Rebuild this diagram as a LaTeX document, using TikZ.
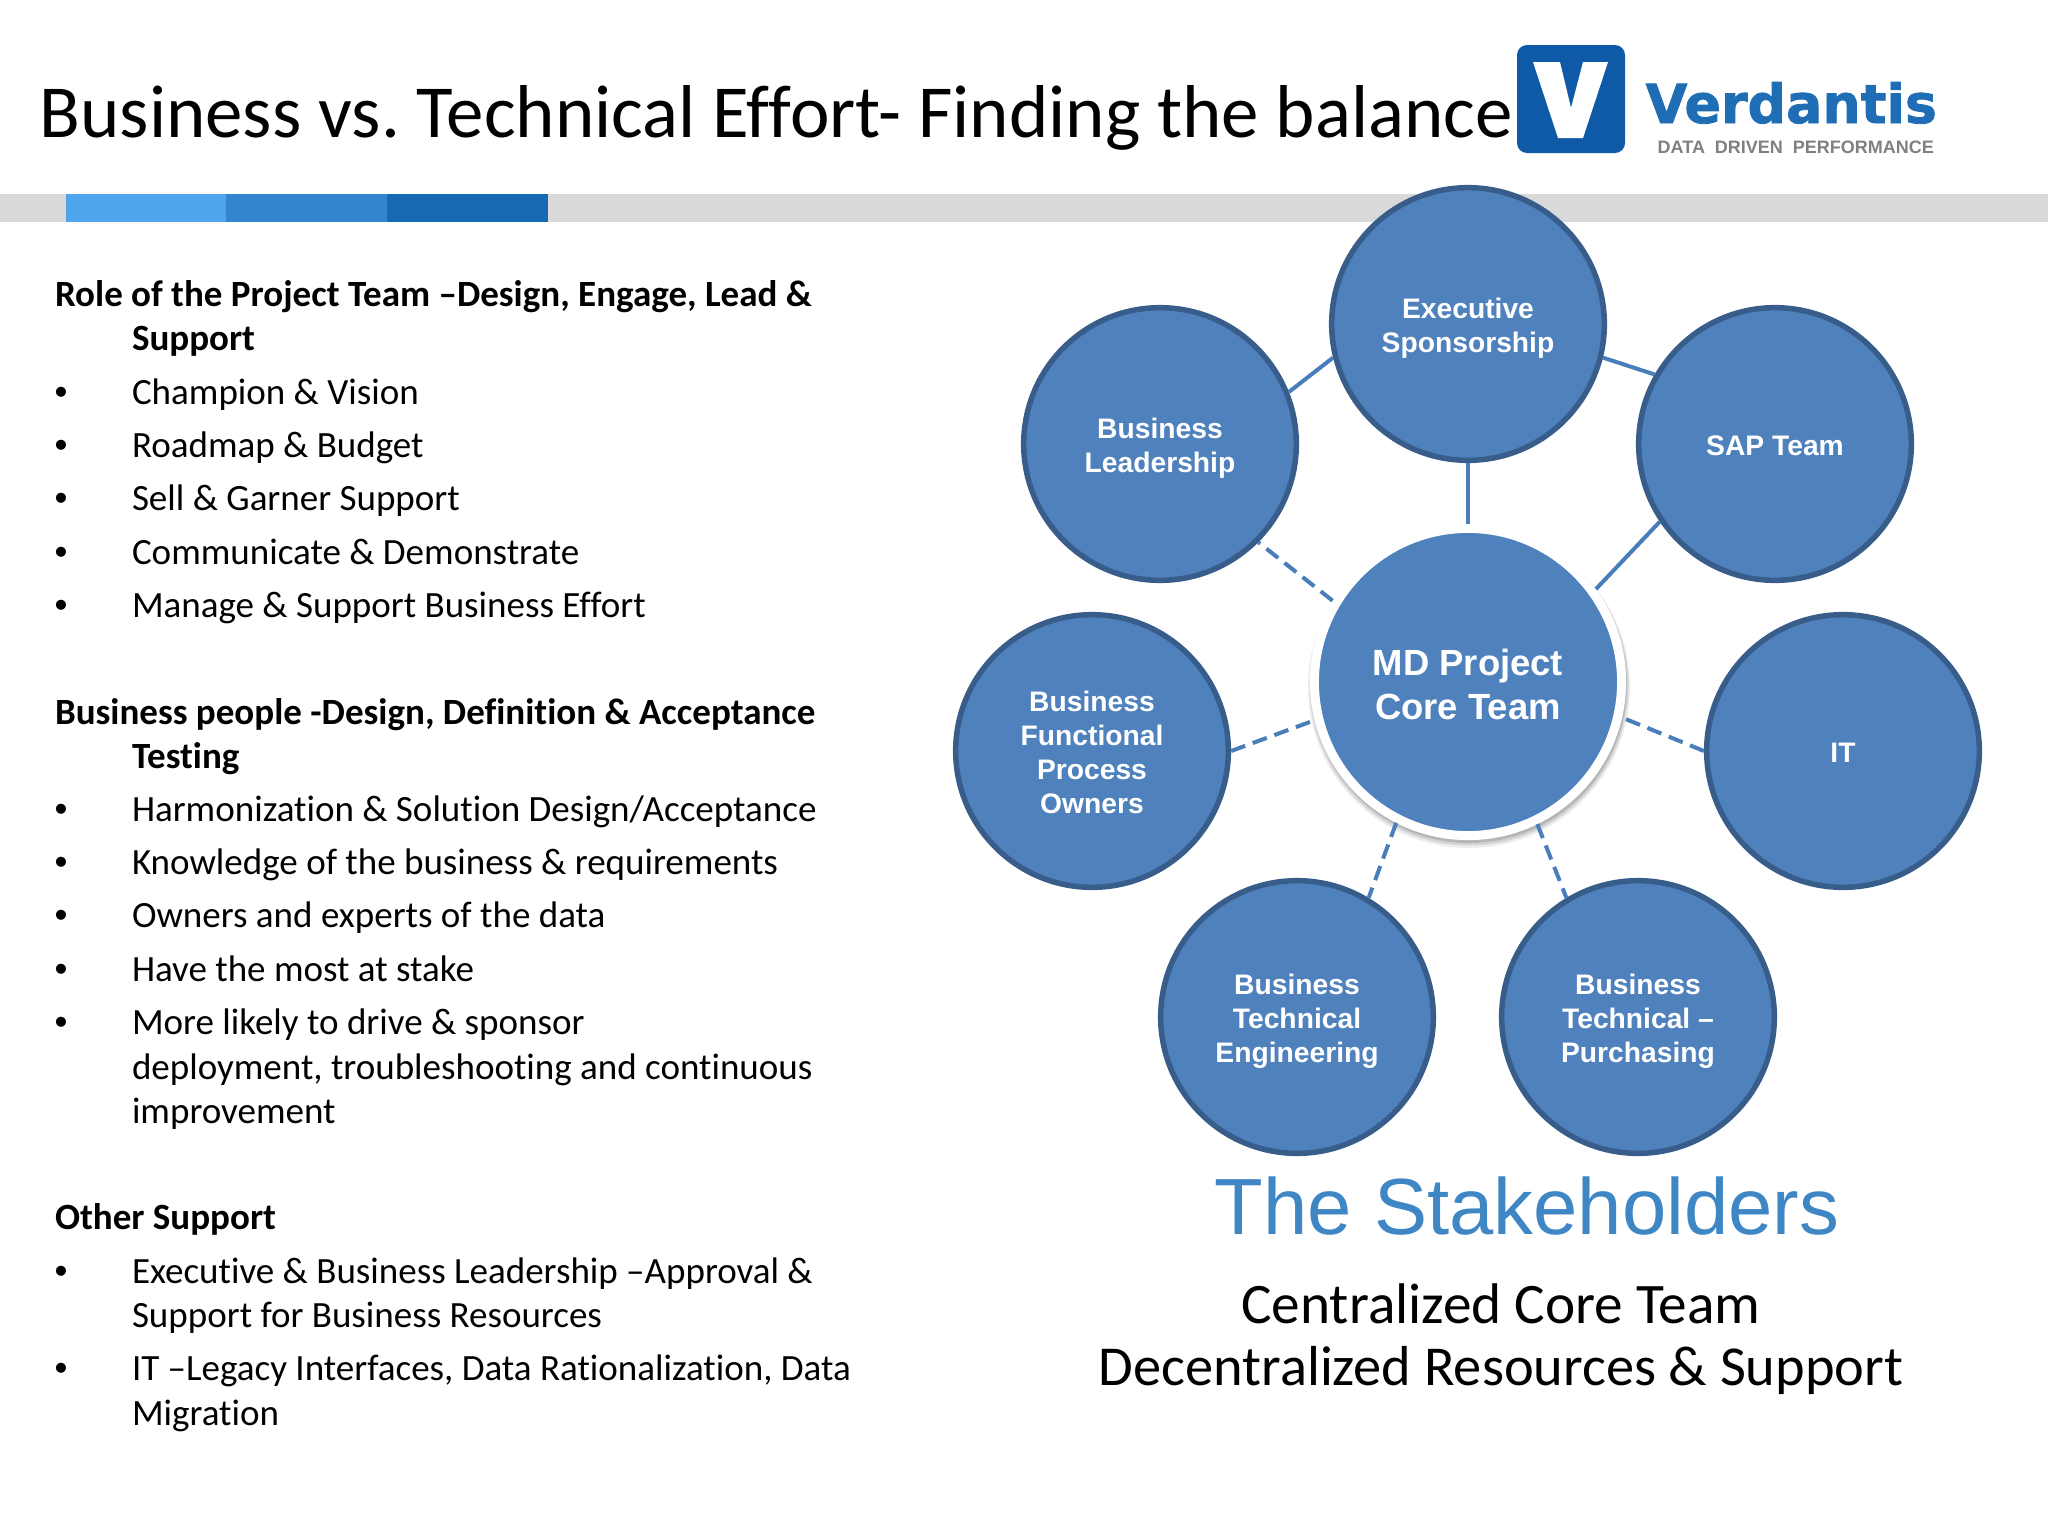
\documentclass[tikz,border=0pt]{standalone}
\usepackage{fontspec}
\usepackage{graphicx}
\setmainfont[Ligatures=NoCommon]{Carlito}
\newfontfamily\arialf{Liberation Sans}
\newfontfamily\dejaf[BoldFeatures={FakeBold=1.5}]{DejaVu Sans}
\definecolor{nodefill}{HTML}{4F81BD}
\definecolor{nodeline}{HTML}{385D8A}
\definecolor{linkc}{HTML}{4A7EBB}
\definecolor{bandc}{HTML}{D9D9D9}
\definecolor{bluea}{HTML}{4FA5EC}
\definecolor{blueb}{HTML}{3385CE}
\definecolor{bluec}{HTML}{166AB2}
\definecolor{logoc}{HTML}{0F5AA6}
\definecolor{vertext}{HTML}{1F6DB5}
\definecolor{stake}{HTML}{3F86C5}
\newcommand{\dn}[1]{\rule{0pt}{#1pt}}
\frenchspacing
\tikzset{
  px/.style={x=0.01cm,y=-0.01cm},
  txt/.style={anchor=base west,inner sep=0pt,outer sep=0pt,font=\fontsize{10.53}{12}\selectfont,text=black},
  hd/.style={txt,font=\fontsize{10.53}{12}\selectfont\bfseries},
  bul/.style={anchor=base,inner sep=0pt,outer sep=0pt,font=\arialf\fontsize{10.5}{12}\selectfont,text=black},
  stakenode/.style={circle,fill=nodefill,draw=nodeline,line width=5.5*0.2845pt,minimum size=2.725cm,inner sep=0pt,text=white,align=center,font=\arialf\fontsize{8.03}{9.65}\selectfont\bfseries},
  corenode/.style={circle,fill=nodefill,draw=white,line width=9*0.2845pt,minimum size=3.07cm,inner sep=0pt,text=white,align=center,font=\arialf\fontsize{10.36}{12.65}\selectfont\bfseries},
  solidlink/.style={draw=linkc,line width=4*0.2845pt},
  dashlink/.style={solidlink,dash pattern=on 15*0.2845pt off 8*0.2845pt},
  capt/.style={anchor=base,inner sep=0pt,outer sep=0pt,font=\fontsize{16.03}{18}\selectfont,text=black}
}
\begin{document}
\begin{tikzpicture}[px]
\useasboundingbox (0,0) rectangle (2048,1536);
\fill[white] (0,0) rectangle (2048,1536);
% band
\fill[bandc] (0,194) rectangle (2048,222);
\fill[bluea] (66,194) rectangle (226,221.5);
\fill[blueb] (226,194) rectangle (387,221.5);
\fill[bluec] (387,194) rectangle (548,221.5);
% title
\node[anchor=base west,inner sep=0pt,font=\fontsize{21.3}{24}\selectfont] (title) at (39,137) {Business vs. Technical Effort- Finding the balance};
% logo
\fill[logoc,rounded corners=10*0.2845pt] (1517,45) rectangle (1625,153);
\fill[white] (1533,62) -- (1560,62) -- (1571,108) -- (1583,62) -- (1608,62) -- (1583,138) -- (1558,138) -- cycle;
\node[anchor=base west,inner sep=0pt,text=vertext] (verd) at (1645,123) {\resizebox{2.91cm}{!}{\dejaf\bfseries Verdantis}};
\node[anchor=base west,inner sep=0pt,text=gray] (tag) at (1657,153) {\resizebox{2.76cm}{!}{\arialf\bfseries DATA\ \ DRIVEN\ \ PERFORMANCE}};
% left text
\node[hd] (l1) at (55,306) {Role of the Project Team –Design, Engage, Lead \&};
\node[hd] (l2) at (132,350) {Support};
\node[bul] (b1) at (61,404) {•}; \node[txt] (l3) at (132,404) {Champion \& Vision};
\node[bul] (b2) at (61,457) {•}; \node[txt] (l4) at (132,457) {Roadmap \& Budget};
\node[bul] (b3) at (61,510) {•}; \node[txt] (l5) at (132,510) {Sell \& Garner Support};
\node[bul] (b4) at (61,564) {•}; \node[txt] (l6) at (132,564) {Communicate \& Demonstrate};
\node[bul] (b5) at (61,617) {•}; \node[txt] (l7) at (132,617) {Manage \& Support Business Effort};
\node[hd] (l8) at (55,724) {Business people -Design, Definition \& Acceptance};
\node[hd] (l9) at (132,768) {Testing};
\node[bul] (b6) at (61,821) {•}; \node[txt] (l10) at (132,821) {Harmonization \& Solution Design/Acceptance};
\node[bul] (b7) at (61,874) {•}; \node[txt] (l11) at (132,874) {Knowledge of the business \& requirements};
\node[bul] (b8) at (61,927) {•}; \node[txt] (l12) at (132,927) {Owners and experts of the data};
\node[bul] (b9) at (61,981) {•}; \node[txt] (l13) at (132,981) {Have the most at stake};
\node[bul] (b10) at (61,1034) {•}; \node[txt] (l14) at (132,1034) {More likely to drive \& sponsor};
\node[txt] (l15) at (132,1079) {deployment, troubleshooting and continuous};
\node[txt] (l16) at (132,1123) {improvement};
\node[hd] (l17) at (55,1229) {Other Support};
\node[bul] (b11) at (61,1283) {•}; \node[txt] (l18) at (132,1283) {Executive \& Business Leadership –Approval \&};
\node[txt] (l19) at (132,1327) {Support for Business Resources};
\node[bul] (b12) at (61,1380) {•}; \node[txt] (l20) at (132,1380) {IT –Legacy Interfaces, Data Rationalization, Data};
\node[txt] (l21) at (132,1425) {Migration};
% shadow of core
\fill[black,opacity=.07] (1469,687) circle (161);
\fill[black,opacity=.10] (1469,686) circle (159.5);
\fill[black,opacity=.14] (1469,685) circle (158);
% nodes
\node[stakenode] (exec) at (1468,324) {\dn{8.4}Executive\\Sponsorship};
\node[stakenode] (bl) at (1160,444) {\dn{8.1}Business\\Leadership};
\node[stakenode] (sap) at (1775,444) {\dn{6.6}SAP Team};
\node[stakenode] (func) at (1092,751) {\dn{6.4}Business\\Functional\\Process\\Owners};
\node[stakenode] (it) at (1843,751) {\dn{6.6}IT};
\node[stakenode] (te) at (1297,1017) {\dn{8.4}Business\\Technical\\Engineering};
\node[stakenode] (pu) at (1638,1017) {\dn{8.4}Business\\Technical –\\Purchasing};
\node[corenode] (core) at (1468,682) {\dn{8.9}MD Project\\Core Team};
% links
\draw[solidlink] (exec.194.5) -- (bl.22.7);
\draw[solidlink] (exec.346) -- (sap.150.5);
\draw[solidlink] (exec.270) -- (core.90);
\draw[solidlink] (core.36.5) -- (sap.214.7);
\draw[dashlink] (core.149) -- (bl.315);
\draw[dashlink] (func.0) -- (core.194.6);
\draw[dashlink] (it.180) -- (core.347);
\draw[dashlink] (core.243.4) -- (te.59);
\draw[dashlink] (core.296.6) -- (pu.121);
% captions
\node[anchor=base,inner sep=0pt,text=stake,font=\arialf\fontsize{22.65}{27}\selectfont] (stakes) at (1527,1234) {The Stakeholders};
\node[capt,font=\fontsize{16.3}{18}\selectfont] (c1) at (1501,1323) {Centralized Core Team};
\node[capt] (c2) at (1501,1385) {Decentralized Resources \& Support};
\end{tikzpicture}
\end{document}
